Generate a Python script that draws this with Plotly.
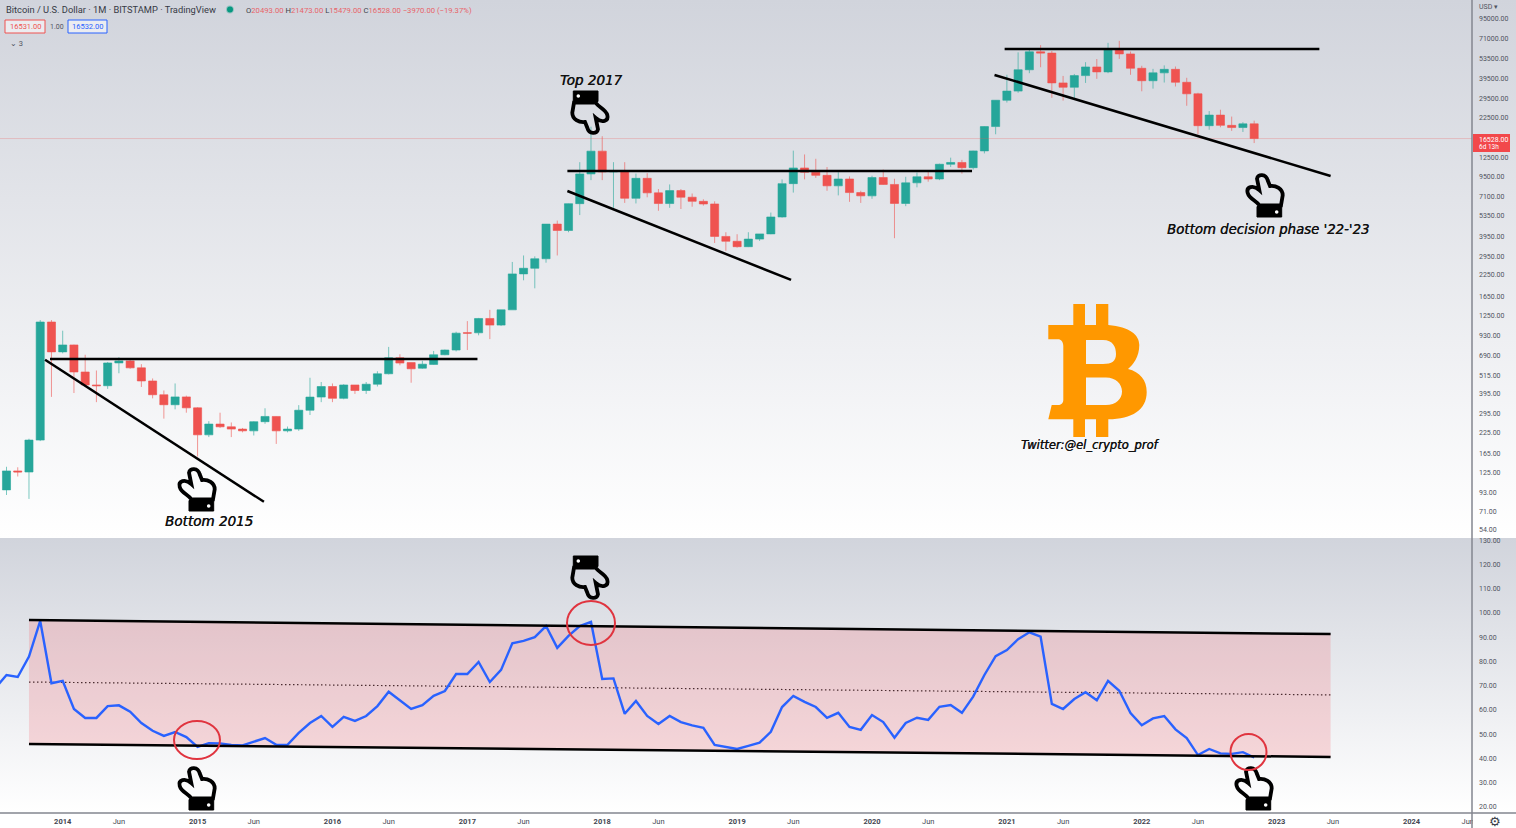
"""BTC monthly candles with RSI pane, hand-drawn channel notes on top."""
import plotly.graph_objects as go

W, H = 1516, 828
AXIS_X = 1472      # price scale starts here
PANE_Y = 538       # price / rsi split
TIME_Y = 813       # time scale starts here

TEAL = "#26a69a"
RED = "#ef5350"
BLUE = "#2962ff"
ORANGE = "#ff9800"
GREY_TEXT = "#50535e"

# Monthly bars, Aug 2013 .. Nov 2022. Bar 0 is Jan 2014.
bar_index = list(range(-5, 107))
opens = [
    97, 128, 126, 201, 1130,
    730, 808, 544, 450, 445, 621, 640, 578, 477, 390, 337, 378,
    322, 217, 254, 244, 236, 230, 263, 284, 230, 236, 311, 377,
    440, 370, 450, 415, 455, 530, 670, 624, 575, 608, 700, 750,
    966, 965, 1190, 1080, 1350, 2284, 2480, 2850, 4730, 4310, 6380, 9850,
    13750, 10150, 10300, 6900, 9240, 7470, 6390, 7720, 7010, 6600, 6350, 3950,
    3680, 3400, 3800, 4100, 5250, 8550, 10750, 10100, 9650, 8280, 9150, 7500,
    7150, 9350, 8450, 6400, 8650, 9450, 9150, 11350, 11650, 10800, 13800, 19700,
    28950, 33100, 45200, 58800, 57700, 37300, 35000, 41500, 47100, 43800, 61300, 57000,
    46200, 38500, 43200, 45500, 37650, 31800, 19950, 23300, 20050, 19420, 20493,
]
highs = [
    136, 135, 205, 1163, 1163,
    995, 812, 700, 556, 630, 675, 655, 610, 495, 415, 460, 385,
    325, 265, 300, 260, 240, 265, 320, 285, 245, 335, 500, 470,
    460, 455, 450, 470, 550, 785, 705, 625, 640, 740, 755, 980,
    1145, 1200, 1350, 1350, 2720, 2990, 2950, 4730, 4980, 6400, 11700, 19666,
    17100, 11700, 11700, 9900, 9960, 7900, 8450, 7900, 7400, 6800, 6600, 4200,
    4080, 4200, 4100, 5600, 9100, 13850, 13100, 12300, 10900, 10100, 9500, 7700,
    9600, 10500, 9180, 9450, 10050, 10400, 11450, 12500, 12100, 13850, 19800, 29000,
    42000, 58300, 61800, 64800, 59500, 41300, 42500, 50500, 52900, 67000, 69000, 59000,
    47900, 45800, 48200, 47400, 40200, 32300, 24700, 25200, 22800, 21000, 21473,
]
lows = [
    90, 118, 85, 198, 378,
    715, 400, 445, 350, 425, 534, 570, 437, 370, 275, 315, 300,
    158, 210, 240, 210, 225, 215, 255, 190, 225, 230, 290, 350,
    350, 365, 395, 395, 440, 525, 600, 465, 570, 605, 695, 735,
    750, 930, 880, 1065, 1350, 2080, 1850, 2690, 2990, 4200, 5400, 9000,
    9000, 6000, 6450, 6400, 7000, 5750, 6000, 5900, 6100, 6200, 3590, 3200,
    3350, 3380, 3700, 4080, 5200, 7500, 9100, 9300, 7700, 7200, 6550, 6450,
    6850, 8400, 3850, 6150, 8100, 8800, 9000, 10900, 9900, 10500, 13300, 17600,
    28000, 32300, 43000, 46900, 30000, 28800, 29300, 37300, 39600, 43000, 53000, 42000,
    33000, 34300, 37500, 35400, 26700, 17600, 18800, 19500, 18500, 18200, 15479,
]
closes = [
    128, 126, 201, 1130, 730,
    808, 544, 450, 445, 621, 640, 578, 477, 390, 337, 378, 322,
    217, 254, 244, 236, 230, 263, 284, 230, 236, 311, 377, 440,
    370, 450, 415, 455, 530, 670, 620, 570, 610, 700, 750, 960,
    960, 1190, 1080, 1350, 2284, 2480, 2850, 4730, 4310, 6380, 9850, 13750,
    10150, 10300, 6900, 9240, 7470, 6390, 7720, 7010, 6600, 6350, 3950, 3680,
    3400, 3800, 4100, 5250, 8550, 10750, 10100, 9650, 8280, 9150, 7500, 7150,
    9350, 8450, 6400, 8650, 9450, 9150, 11350, 11650, 10800, 13800, 19700, 28950,
    33100, 45200, 58800, 57700, 37300, 35000, 41500, 47100, 43800, 61300, 57000, 46200,
    38500, 43200, 45500, 37650, 31800, 19950, 23300, 20050, 19420, 20490, 16528,
]

rsi_index = list(range(-6, 107))
rsi = [
    69, 74.4, 73.6, 82, 96.7, 71,
    72, 60.4, 56.7, 56.7, 61.6, 61.9, 59.3, 54.6, 51.4, 49.3, 50.9, 48.8,
    44.8, 46.3, 46.2, 45.6, 45.4, 46.8, 48.4, 45.6, 45.6, 50.5, 54.6, 57.5,
    53, 57.1, 55.5, 57.5, 61.6, 67.5, 64.1, 60.4, 62, 65.8, 67.8, 74.8,
    74.8, 79.8, 71.5, 76.5, 87.5, 88.5, 90, 94.6, 85.6, 90.5, 94.6, 96.3,
    72.8, 73, 58.4, 63.7, 57.5, 54.2, 57.5, 55, 53.6, 52.6, 45.6, 44.7,
    43.9, 45.2, 46.5, 51, 61.2, 65.8, 63.3, 61.2, 56.7, 58.8, 53, 51.8,
    57.9, 55, 48.5, 54.6, 56.8, 55.9, 61.3, 62, 58.8, 65.5, 74.4, 82.2,
    84.7, 89.2, 92, 90.2, 62.5, 60.4, 64.5, 67.3, 64, 72, 67.9, 58.7,
    53.7, 56.5, 57.5, 52, 48.4, 41.4, 43.9, 42.1, 41.9, 42.6, 40.4,
]

# Drawn trend lines on the price pane: (bar, price) end points
flat_2015 = ([-1.13, 36.9], [659, 659])
fall_2015 = ([-1.57, 17.9], [650, 81.5])
flat_2018 = ([44.9, 80.9], [10300, 10300])
fall_2018 = ([44.9, 64.8], [7680, 2092])
flat_2022 = ([83.8, 111.8], [61250, 61250])
fall_2022 = ([82.9, 112.8], [41900, 9570])

# Parallel channel on the rsi pane
channel_x = [-3.0, 112.8]
channel_top = [97.1, 91.3]
channel_mid = [71.5, 66.2]
channel_low = [46.0, 40.6]

price_ticks = [95000, 71000, 53500, 39500, 29500, 22500, 12500, 9500, 7100, 5350, 3950, 2950, 2250,
               1650, 1250, 930, 690, 515, 395, 295, 225, 165, 125, 93, 71, 54]
rsi_ticks = [130, 120, 110, 100, 90, 80, 70, 60, 50, 40, 30, 20]
time_ticks = [0, 5, 12, 17, 24, 29, 36, 41, 48, 53, 60, 65, 72, 77, 84, 89, 96, 101, 108, 113, 120, 125]
time_labels = ["<b>2014</b>", "Jun", "<b>2015</b>", "Jun", "<b>2016</b>", "Jun", "<b>2017</b>", "Jun",
               "<b>2018</b>", "Jun", "<b>2019</b>", "Jun", "<b>2020</b>", "Jun", "<b>2021</b>", "Jun",
               "<b>2022</b>", "Jun", "<b>2023</b>", "Jun", "<b>2024</b>", "Jun"]

LAST_PRICE = 16528
X_RANGE = [-5.578, 125.38]
PRICE_RANGE_LOG = [1.6812, 5.0983]
RSI_RANGE = [17.5, 130.9]

fig = go.Figure()


def add_backdrop(y0, y1):
    fig.add_trace(go.Scatter(
        x=[0, W, W, 0, 0], y=[y0, y0, y1, y1, y0],
        mode="lines", line=dict(width=0), fill="toself",
        fillgradient=dict(type="vertical", colorscale=[[0, "#ffffff"], [1, "#d1d4dc"]]),
        hoverinfo="skip", showlegend=False, xaxis="x", yaxis="y",
    ))


add_backdrop(0, PANE_Y)
add_backdrop(PANE_Y, TIME_Y)

# -- price pane ------------------------------------------------------
fig.add_trace(go.Scatter(
    x=[X_RANGE[0], X_RANGE[1]], y=[LAST_PRICE, LAST_PRICE], mode="lines",
    line=dict(color="rgba(239,83,80,0.25)", width=1),
    hoverinfo="skip", showlegend=False, xaxis="x2", yaxis="y2",
))
fig.add_trace(go.Candlestick(
    x=bar_index, open=opens, high=highs, low=lows, close=closes,
    increasing=dict(line=dict(color="rgba(38,166,154,0.6)", width=1), fillcolor=TEAL),
    decreasing=dict(line=dict(color="rgba(239,83,80,0.6)", width=1), fillcolor=RED),
    whiskerwidth=0, showlegend=False, xaxis="x2", yaxis="y2",
))
for xs, ys in (flat_2015, fall_2015, flat_2018, fall_2018, flat_2022, fall_2022):
    fig.add_trace(go.Scatter(
        x=xs, y=ys, mode="lines", line=dict(color="black", width=2.5),
        hoverinfo="skip", showlegend=False, xaxis="x2", yaxis="y2",
    ))

# -- rsi pane --------------------------------------------------------
fig.add_trace(go.Scatter(
    x=channel_x + channel_x[::-1] + channel_x[:1],
    y=channel_top + channel_low[::-1] + channel_top[:1],
    mode="lines", line=dict(width=0), fill="toself",
    fillcolor="rgba(243,85,95,0.2)",
    hoverinfo="skip", showlegend=False, xaxis="x3", yaxis="y3",
))
fig.add_trace(go.Scatter(
    x=channel_x, y=channel_mid, mode="lines",
    line=dict(color="#4a2c30", width=1.2, dash="1.5px,2.5px"),
    hoverinfo="skip", showlegend=False, xaxis="x3", yaxis="y3",
))
fig.add_trace(go.Scatter(
    x=rsi_index, y=rsi, mode="lines", line=dict(color=BLUE, width=2.4),
    hoverinfo="skip", showlegend=False, xaxis="x3", yaxis="y3",
))
for ys in (channel_top, channel_low):
    fig.add_trace(go.Scatter(
        x=channel_x, y=ys, mode="lines", line=dict(color="black", width=2.5),
        hoverinfo="skip", showlegend=False, xaxis="x3", yaxis="y3",
    ))

# -- decorations, in page pixels ------------------------------------
shapes = []


def px_shape(**kw):
    shapes.append(dict(xref="x", yref="y", layer="above", **kw))


def hand(x, y, flip=False):
    """Pointing hand icon. (x, y) is the top-left of its 38x45 box."""
    def p(lx, ly):
        return (f"{x + 38 - lx:.1f},{y + 45 - ly:.1f}" if flip else f"{x + lx:.1f},{y + ly:.1f}")

    outline = (f"M{p(11, 6.7)} C{p(11.7, 1.7)} {p(20, 1.7)} {p(21.7, 8.3)} L{p(24, 14)} "
               f"C{p(30, 13.3)} {p(36.7, 16.7)} {p(36.7, 23.3)} L{p(35, 33.3)} L{p(13.3, 33.3)} "
               f"C{p(10, 28.3)} {p(3.3, 27)} {p(1.7, 21)} C{p(0, 15)} {p(7, 12.5)} {p(13.3, 18)} Z")
    cuff = f"M{p(11, 34.5)} L{p(35.7, 34.5)} L{p(35.7, 45)} L{p(11, 45)} Z"
    px_shape(type="path", path=outline, line=dict(color="black", width=3.8))
    px_shape(type="path", path=cuff, fillcolor="black", line=dict(color="black", width=1))
    cx, cy = (x + 38 - 30.7, y + 45 - 40) if flip else (x + 30.7, y + 40)
    px_shape(type="circle", x0=cx - 1.8, x1=cx + 1.8, y0=cy - 1.8, y1=cy + 1.8,
             fillcolor="white", line=dict(width=0))


hand(178, 466)
hand(571, 91, flip=True)
hand(571, 556, flip=True)
hand(178, 765)
hand(1246, 172)
hand(1235, 765)

for cx, cy, rx, ry in ((197, 740, 23, 19), (591, 623, 24, 22), (1248.5, 752, 18, 18)):
    px_shape(type="circle", x0=cx - rx, x1=cx + rx, y0=cy - ry, y1=cy + ry,
             line=dict(color="#e0343f", width=2))

# Bitcoin logo
px_shape(
    type="path", fillcolor=ORANGE, line=dict(width=0),
    path=("M1048.3,325 L1073.3,325 L1073.3,304 L1085,304 L1085,325 L1096,325 L1096,304 L1108.3,304 L1108.3,325 "
          "C1130,327 1139.3,335 1139.3,345 C1139.3,357 1133,365 1128,369 C1140,372 1146.7,380 1146.7,392 "
          "C1146.7,410 1132,419 1108.3,419.3 L1108.3,437 L1096,437 L1096,419.3 L1085,419.3 L1085,437 L1073.3,437 "
          "L1073.3,419.3 L1048.3,419.3 L1051.7,405 L1058,405 C1061,405 1063.3,403 1063.3,400 L1063.3,346 "
          "C1063.3,342 1061,339.3 1058,339.3 L1048.3,339.3 Z "
          "M1086,340 L1103,340 C1113,340 1116,347 1116,354 C1116,361 1112,364 1103,364 L1086,364 Z "
          "M1086,377.5 L1106,377.5 C1116,377.5 1122,384 1122,391.5 C1122,399 1116,405 1106,405 L1086,405 Z"),
)

# Scale frame
px_shape(type="line", x0=AXIS_X, x1=AXIS_X, y0=0, y1=H, line=dict(color="#83868f", width=1.5))
px_shape(type="line", x0=0, x1=W, y0=TIME_Y, y1=TIME_Y, line=dict(color="#83868f", width=1.5))
# hides what the window cuts off: top of the 130 label, end of the last Jun label
px_shape(type="rect", x0=AXIS_X + 1, x1=W, y0=534.5, y1=PANE_Y, fillcolor="#ffffff", line=dict(width=0))
px_shape(type="rect", x0=AXIS_X + 1, x1=1482, y0=TIME_Y + 1, y1=H, fillcolor="#ffffff", line=dict(width=0))
# last price tag and order buttons
px_shape(type="rect", x0=1473, x1=1510, y0=134, y1=152, fillcolor="#f2484b", line=dict(width=0))
px_shape(type="rect", x0=5, x1=45, y0=20, y1=33, fillcolor="rgba(255,255,255,0.55)",
         line=dict(color="#ef5350", width=1))
px_shape(type="rect", x0=68, x1=107, y0=20, y1=33, fillcolor="rgba(255,255,255,0.55)",
         line=dict(color="#2962ff", width=1))
px_shape(type="circle", x0=227, x1=233, y0=6.5, y1=12.5, fillcolor="#089981",
         line=dict(color="rgba(8,153,129,0.3)", width=2))


def note(x, y, text, size=8, color=GREY_TEXT, anchor="left", family="Roboto", **font_kw):
    return dict(xref="x", yref="y", x=x, y=y, text=text, showarrow=False, xanchor=anchor, yanchor="middle",
                font=dict(family=family, size=size, color=color, **font_kw))


def hi(label, value):
    return f'<span style="color:#3b3e48">{label}</span>{value} '


def hand_note(x, y, text, size):
    # regular oblique, thickened a little: the original sits between regular and bold
    return note(x, y, text, size=size, color="#111", anchor="center", family="DejaVu Sans",
                style="italic", shadow="0.35px 0 0 #111")


annotations = [
    note(4, 9.5, "Bitcoin / U.S. Dollar · 1M · BITSTAMP · TradingView", size=9.3, color="#363a45"),
    note(244, 10, hi("O", "20493.00") + hi("H", "21473.00") + hi("L", "15479.00") + hi("C", "16528.00")
         + "−3970.00 (−19.37%)", size=7.7, color="#e8646a"),
    note(25, 26.5, "16531.00", size=7.5, color="#ef5350", anchor="center"),
    note(56.5, 26.5, "1.00", size=7, anchor="center"),
    note(87.5, 26.5, "16532.00", size=7.5, color="#2962ff", anchor="center"),
    note(8, 43, "⌄ 3", size=7.5),
    note(1476.5, 7, "USD ▾", size=7),
    note(1476.5, 139.5, "16528.00", size=7, color="white"),
    note(1476.5, 147, "6d 13h", size=6.5, color="white"),
    hand_note(591, 80, "Top 2017", 13.5),
    hand_note(208.5, 521, "Bottom 2015", 13.5),
    hand_note(1267.5, 229, "Bottom decision phase '22-'23", 13.3),
    hand_note(1090, 445, "Twitter:@el_crypto_prof", 11.5),
    note(1495, 821, "⚙", size=13, color="#3b3e48", anchor="center", family="DejaVu Sans"),
]

axis_font = dict(family="Roboto", size=7, color=GREY_TEXT)
x_dom = [0, AXIS_X / W]

fig.update_layout(
    width=W, height=H, autosize=False,
    margin=dict(l=0, r=0, t=0, b=0),
    paper_bgcolor="#ffffff", plot_bgcolor="rgba(0,0,0,0)",
    showlegend=False,
    boxgap=0.28, boxgroupgap=0,
    shapes=shapes,
    annotations=annotations,
    # page pixels, also carries the backdrops so they stay below the panes
    xaxis=dict(domain=[0, 1], range=[0, W], visible=False, fixedrange=True, automargin=False),
    yaxis=dict(domain=[0, 1], range=[H, 0], visible=False, fixedrange=True, automargin=False),
    xaxis2=dict(domain=x_dom, range=X_RANGE, anchor="y2", visible=False, automargin=False,
                rangeslider=dict(visible=False)),
    yaxis2=dict(
        domain=[1 - PANE_Y / H, 1], type="log", range=PRICE_RANGE_LOG, anchor="x2", side="right",
        tickmode="array", tickvals=price_ticks, ticktext=[f"{v}.00" for v in price_ticks],
        tickfont=axis_font, ticks="", showgrid=False, zeroline=False, ticklabelstandoff=6, automargin=False,
    ),
    xaxis3=dict(
        domain=x_dom, range=X_RANGE, anchor="y3", tickmode="array", tickvals=time_ticks, ticktext=time_labels,
        tickfont=dict(family="Roboto", size=7.5, color="#434651"), ticks="", showgrid=False, zeroline=False,
        ticklabelstandoff=2, automargin=False,
    ),
    yaxis3=dict(
        domain=[1 - TIME_Y / H, 1 - PANE_Y / H], range=RSI_RANGE, anchor="x3", side="right",
        tickmode="array", tickvals=rsi_ticks, ticktext=[f"{v}.00" for v in rsi_ticks],
        tickfont=axis_font, ticks="", showgrid=False, zeroline=False, ticklabelstandoff=6, automargin=False,
    ),
)

fig.write_html(
    "out.html",
    config=dict(displayModeBar=False),
    post_script="document.body.style.margin='0';document.documentElement.style.overflow='hidden';",
)
